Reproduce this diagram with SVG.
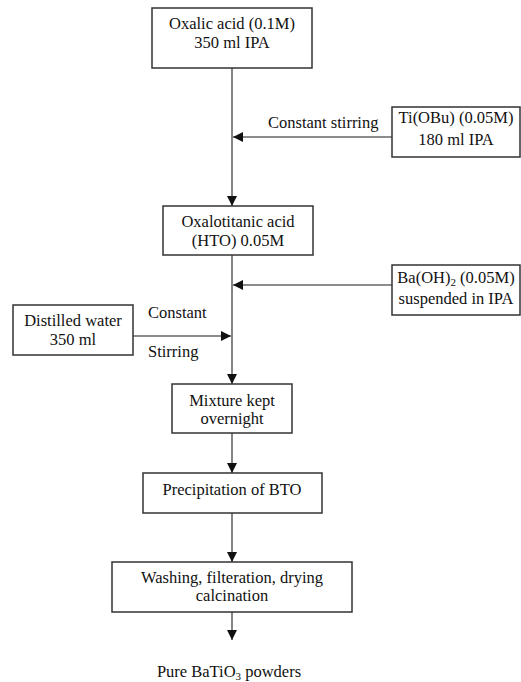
<svg xmlns="http://www.w3.org/2000/svg" width="521" height="682" viewBox="0 0 521 682">
<style>
.box{fill:#fff;stroke:#333;stroke-width:1.5}
.ln{fill:none;stroke:#666;stroke-width:1.6}
text{font-family:"Liberation Serif","Times New Roman",serif;font-size:16.5px;fill:#111}
.c{text-anchor:middle}
</style>
<defs>
<marker id="ah" markerUnits="userSpaceOnUse" markerWidth="11" markerHeight="11" refX="10" refY="5" orient="auto">
<path d="M0,0 L10,5 L0,10 z" fill="#111"/>
</marker>
</defs>
<g id="connectors">
<line class="ln" x1="232" y1="68" x2="232" y2="206" marker-end="url(#ah)"/>
<line class="ln" x1="392" y1="137" x2="233" y2="137" marker-end="url(#ah)"/>
<line class="ln" x1="232" y1="255" x2="232" y2="384" marker-end="url(#ah)"/>
<line class="ln" x1="392" y1="285" x2="233" y2="285" marker-end="url(#ah)"/>
<line class="ln" x1="133" y1="336" x2="231" y2="336" marker-end="url(#ah)"/>
<line class="ln" x1="232" y1="433" x2="232" y2="473" marker-end="url(#ah)"/>
<line class="ln" x1="232" y1="513" x2="232" y2="562" marker-end="url(#ah)"/>
<line class="ln" x1="232" y1="612" x2="232" y2="640" marker-end="url(#ah)"/>
<text x="268" y="128">Constant stirring</text>
<text x="148" y="318">Constant</text>
<text x="148" y="357">Stirring</text>
</g>
<g id="oxalic">
<rect class="box" x="152" y="8" width="160" height="60"/>
<text class="c" x="232" y="29">Oxalic acid (0.1M)</text>
<text class="c" x="232" y="48">350 ml IPA</text>
</g>
<g id="tiobu">
<rect class="box" x="392" y="107" width="128" height="50"/>
<text class="c" x="456" y="123">Ti(OBu) (0.05M)</text>
<text class="c" x="456" y="145">180 ml IPA</text>
</g>
<g id="hto">
<rect class="box" x="163" y="206" width="150" height="49"/>
<text class="c" x="238" y="227">Oxalotitanic acid</text>
<text class="c" x="238" y="246">(HTO) 0.05M</text>
</g>
<g id="baoh">
<rect class="box" x="392" y="265" width="128" height="50"/>
<text class="c" x="456" y="283">Ba(OH)<tspan font-size="11" dy="3">2</tspan><tspan dy="-3"> (0.05M)</tspan></text>
<text class="c" x="456" y="304">suspended in IPA</text>
</g>
<g id="water">
<rect class="box" x="13" y="305" width="120" height="50"/>
<text class="c" x="73" y="326">Distilled water</text>
<text class="c" x="73" y="345">350 ml</text>
</g>
<g id="mixture">
<rect class="box" x="172" y="384" width="120" height="49"/>
<text class="c" x="232" y="406">Mixture kept</text>
<text class="c" x="232" y="424">overnight</text>
</g>
<g id="precip">
<rect class="box" x="143" y="473" width="179" height="40"/>
<text class="c" x="232" y="495">Precipitation of BTO</text>
</g>
<g id="washing">
<rect class="box" x="112" y="562" width="240" height="50"/>
<text class="c" x="232" y="583">Washing, filteration, drying</text>
<text class="c" x="232" y="601">calcination</text>
</g>
<g id="product">
<text class="c" x="229" y="677">Pure BaTiO<tspan font-size="11" dy="3">3</tspan><tspan dy="-3"> powders</tspan></text>
</g>
</svg>
